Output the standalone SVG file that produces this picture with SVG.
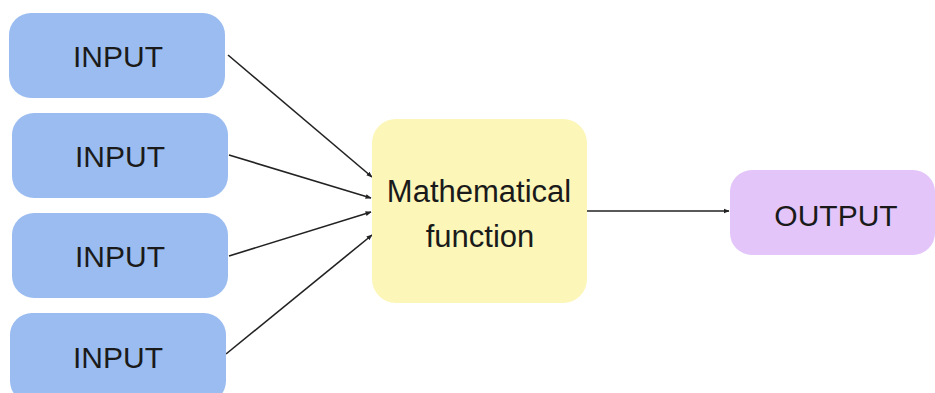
<svg xmlns="http://www.w3.org/2000/svg" width="935" height="393" viewBox="0 0 935 393">
  <style>
    .in { fill: #9abcf0; }
    .fn { fill: #fcf6b8; }
    .out { fill: #e3c5f9; }
    .lbl { font-family: "Liberation Sans", Arial, sans-serif; fill: #1a1a1a; text-anchor: middle; }
    .edge { stroke: #222; stroke-width: 1.6; fill: none; marker-end: url(#ah); }
  </style>
  <defs>
    <marker id="ah" viewBox="0 0 10 10" refX="9" refY="5" markerWidth="6" markerHeight="6" orient="auto" markerUnits="userSpaceOnUse">
      <path d="M0,1 L10,5 L0,9 z" fill="#222"/>
    </marker>
  </defs>
  <rect width="935" height="393" fill="#ffffff"/>
  <g id="connectors">
    <line class="edge" x1="228" y1="55" x2="372" y2="177"/>
    <line class="edge" x1="229" y1="155" x2="371" y2="198"/>
    <line class="edge" x1="229" y1="256" x2="371" y2="212"/>
    <line class="edge" x1="226" y1="354" x2="372" y2="235"/>
    <line class="edge" x1="587" y1="211" x2="729" y2="211"/>
  </g>
  <g id="input1">
    <rect class="in" x="9" y="13" width="216" height="85" rx="22"/>
    <text class="lbl" x="118" y="67" font-size="30">INPUT</text>
  </g>
  <g id="input2">
    <rect class="in" x="12" y="113" width="216" height="85" rx="22"/>
    <text class="lbl" x="120" y="167" font-size="30">INPUT</text>
  </g>
  <g id="input3">
    <rect class="in" x="12" y="213" width="216" height="85" rx="22"/>
    <text class="lbl" x="120" y="267" font-size="30">INPUT</text>
  </g>
  <g id="input4">
    <rect class="in" x="10" y="313" width="216" height="90" rx="22"/>
    <text class="lbl" x="118" y="368" font-size="30">INPUT</text>
  </g>
  <g id="function">
    <rect class="fn" x="372" y="119" width="215" height="184" rx="24"/>
    <text class="lbl" x="479" y="202" font-size="31">Mathematical</text>
    <text class="lbl" x="480" y="247" font-size="31">function</text>
  </g>
  <g id="output">
    <rect class="out" x="730" y="170" width="205" height="85" rx="22"/>
    <text class="lbl" x="836" y="226" font-size="30">OUTPUT</text>
  </g>
</svg>
